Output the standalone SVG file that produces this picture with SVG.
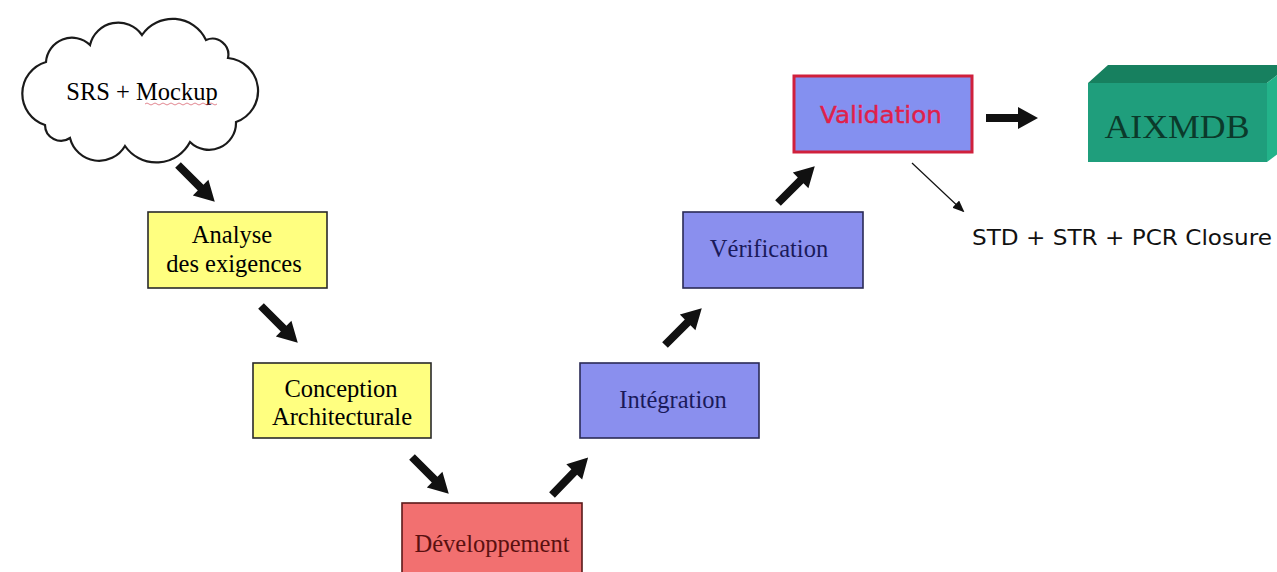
<svg xmlns="http://www.w3.org/2000/svg" width="1277" height="572" viewBox="0 0 1277 572">
<style>
.lbl{font-family:"Liberation Serif","Times New Roman",serif;font-size:24.5px;text-anchor:middle}
.box{stroke-width:1.6}
.yel{fill:#FFFF80;stroke:#2a2a2a}
.blu{fill:#8A8FEE;stroke:#2a2a55}
.arr{fill:#111}
</style>
<defs>
<path id="arr" d="M0,-4 L32,-4 L32,-11 L52,0 L32,11 L32,4 L0,4 Z"/>
<marker id="thin" markerWidth="12" markerHeight="10" refX="10" refY="5" orient="auto" markerUnits="userSpaceOnUse">
<path d="M0,0 L12,5 L0,10 Z" fill="#111"/>
</marker>
</defs>
<rect width="1277" height="572" fill="#fff"/>

<g id="srs">
<path d="M45,125 A33,33 0 0 1 46,62 A26,26 0 0 1 90,45 A29,29 0 0 1 142,35 A37,37 0 0 1 206,40 A16,16 0 0 1 228,58 A33,33 0 0 1 236,122 A27,27 0 0 1 190,142 A38,38 0 0 1 125,146 A30,30 0 0 1 70,138 A16,16 0 0 1 45,125 Z" fill="#fff" stroke="#1a1a1a" stroke-width="2.2"/>
<text class="lbl" x="142" y="100" font-size="23.5">SRS + Mockup</text>
<path d="M145,104 q2,-2 4,0 t4,0 t4,0 t4,0 t4,0 t4,0 t4,0 t4,0 t4,0 t4,0 t4,0 t4,0 t4,0 t4,0 t4,0 t4,0 t4,0 t4,0" fill="none" stroke="#d04050" stroke-width="0.9" opacity="0.7"/>
</g>

<g id="analyse">
<rect class="box yel" x="148" y="212" width="179" height="76"/>
<text class="lbl" x="232" y="243">Analyse</text>
<text class="lbl" x="234" y="272">des exigences</text>
</g>

<g id="conception">
<rect class="box yel" x="253" y="363" width="178" height="75"/>
<text class="lbl" x="341" y="397">Conception</text>
<text class="lbl" x="342" y="425">Architecturale</text>
</g>

<g id="developpement">
<rect class="box" x="402" y="503" width="180" height="80" fill="#F27070" stroke="#5a1a1a"/>
<text class="lbl" x="492" y="552" fill="#5a1010">Développement</text>
</g>

<g id="integration">
<rect class="box blu" x="580" y="363" width="179" height="75"/>
<text class="lbl" x="673" y="408" fill="#1a1a5a">Intégration</text>
</g>

<g id="verification">
<rect class="box blu" x="683" y="212" width="180" height="76"/>
<text class="lbl" x="769" y="257" fill="#1a1a5a">Vérification</text>
</g>

<g id="validation">
<rect x="794" y="76" width="178" height="76" fill="#8490F0" stroke="#D0203C" stroke-width="3"/>
<text x="881" y="123" font-family="'DejaVu Sans','Liberation Sans',sans-serif" font-size="23" text-anchor="middle" fill="#E0204A" stroke="#E0204A" stroke-width="0.4" textLength="122" lengthAdjust="spacingAndGlyphs">Validation</text>
</g>

<g id="aixmdb">
<polygon points="1088,83 1108,65 1290,65 1267,83" fill="#17805F"/>
<polygon points="1267,83 1290,65 1290,145 1267,162" fill="#23B38A"/>
<rect x="1088" y="83" width="179" height="79" fill="#1F9E7C"/>
<text x="1177" y="138" font-family="'Liberation Serif','Times New Roman',serif" font-size="34" text-anchor="middle" fill="#0B3A2B" textLength="145" lengthAdjust="spacingAndGlyphs">AIXMDB</text>
</g>

<g id="closure">
<text x="972" y="245" font-family="'DejaVu Sans','Liberation Sans',sans-serif" font-size="21" fill="#111" textLength="300" lengthAdjust="spacingAndGlyphs">STD + STR + PCR Closure</text>
</g>

<g id="connectors" class="arr">
<use href="#arr" transform="translate(178,165) rotate(45)"/>
<use href="#arr" transform="translate(261,306) rotate(45)"/>
<use href="#arr" transform="translate(412,457) rotate(45)"/>
<use href="#arr" transform="translate(552,495) rotate(-46)"/>
<use href="#arr" transform="translate(665,345) rotate(-45)"/>
<use href="#arr" transform="translate(778,203) rotate(-45)"/>
<use href="#arr" transform="translate(986,118)"/>
<line x1="912" y1="163" x2="963" y2="211" stroke="#111" stroke-width="1.2" marker-end="url(#thin)"/>
</g>
</svg>
